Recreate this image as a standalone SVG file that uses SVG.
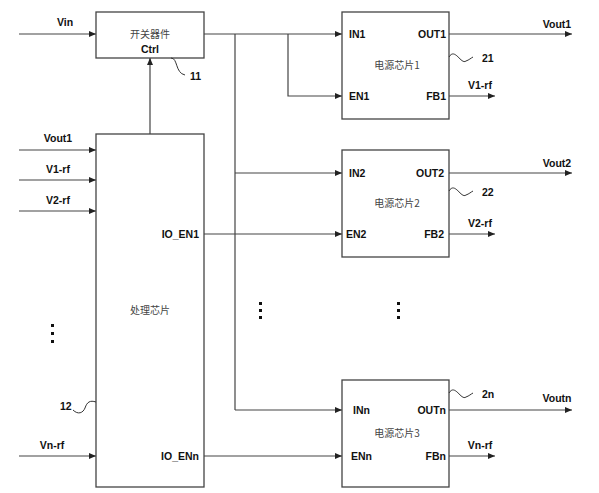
<svg xmlns="http://www.w3.org/2000/svg" width="599" height="493" viewBox="0 0 599 493">
<defs>
<marker id="arr" markerWidth="7" markerHeight="6" refX="7" refY="3" orient="auto" markerUnits="userSpaceOnUse">
<path d="M0,0 L7,3 L0,6 Z" fill="#222"/>
</marker>
<style>
.box{fill:#fff;stroke:#444;stroke-width:1.3}
.ln{fill:none;stroke:#444;stroke-width:1.2}
.ar{marker-end:url(#arr)}
.t{font-family:"Liberation Sans",Arial,sans-serif;font-weight:bold;font-size:10.5px;fill:#111}
.c{font-family:"Noto Sans CJK SC","Noto Sans",sans-serif;font-size:10px;fill:#444}
.sq{fill:none;stroke:#333;stroke-width:1}
.dot{fill:#111}
</style>
</defs>
<rect width="599" height="493" fill="#fff"/>
<g id="connectors">
<line class="ln ar" x1="19" y1="34" x2="96" y2="34"/>
<line class="ln ar" x1="150" y1="134" x2="150" y2="58"/>
<polyline class="ln ar" points="204,34 342,34"/>
<polyline class="ln ar" points="288,34 288,96 342,96"/>
<polyline class="ln" points="235,34 235,410"/>
<line class="ln ar" x1="235" y1="173" x2="342" y2="173"/>
<line class="ln ar" x1="235" y1="410" x2="342" y2="410"/>
<line class="ln ar" x1="204" y1="234" x2="342" y2="234"/>
<line class="ln ar" x1="204" y1="456" x2="342" y2="456"/>
<line class="ln ar" x1="449" y1="34" x2="572" y2="34"/>
<line class="ln ar" x1="449" y1="96" x2="495" y2="96"/>
<line class="ln ar" x1="449" y1="173" x2="572" y2="173"/>
<line class="ln ar" x1="449" y1="234" x2="495" y2="234"/>
<line class="ln ar" x1="449" y1="410" x2="572" y2="410"/>
<line class="ln ar" x1="449" y1="456" x2="495" y2="456"/>
<line class="ln ar" x1="19" y1="150" x2="96" y2="150"/>
<line class="ln ar" x1="19" y1="180" x2="96" y2="180"/>
<line class="ln ar" x1="19" y1="211" x2="96" y2="211"/>
<line class="ln ar" x1="19" y1="456" x2="96" y2="456"/>
<text class="t" x="65" y="26" text-anchor="middle">Vin</text>
<text class="t" x="557" y="28" text-anchor="middle">Vout1</text>
<text class="t" x="480" y="89" text-anchor="middle">V1-rf</text>
<text class="t" x="557" y="167" text-anchor="middle">Vout2</text>
<text class="t" x="480" y="227" text-anchor="middle">V2-rf</text>
<text class="t" x="557" y="402" text-anchor="middle">Voutn</text>
<text class="t" x="480" y="449" text-anchor="middle">Vn-rf</text>
<text class="t" x="58" y="142" text-anchor="middle">Vout1</text>
<text class="t" x="58" y="173" text-anchor="middle">V1-rf</text>
<text class="t" x="58" y="204" text-anchor="middle">V2-rf</text>
<text class="t" x="52" y="449" text-anchor="middle">Vn-rf</text>
</g>
<g id="switch">
<rect class="box" x="96" y="12" width="108" height="46"/>
<text class="c" x="150" y="38" text-anchor="middle">开关器件</text>
<text class="t" x="150" y="53" text-anchor="middle">Ctrl</text>
<path class="sq" d="M171,58 C178,58 175,73 185,75"/>
<text class="t" x="190" y="80">11</text>
</g>
<g id="processor">
<rect class="box" x="96" y="134" width="108" height="353"/>
<text class="c" x="150" y="314" text-anchor="middle">处理芯片</text>
<text class="t" x="199" y="238" text-anchor="end">IO_EN1</text>
<text class="t" x="199" y="460" text-anchor="end">IO_ENn</text>
<path class="sq" d="M73,410 C78,415 83,413 85,408 C87,402 90,400 96,402"/>
<text class="t" x="60" y="410">12</text>
</g>
<g id="chip1">
<rect class="box" x="342" y="12" width="107" height="107"/>
<text class="t" x="349" y="38">IN1</text>
<text class="t" x="349" y="100">EN1</text>
<text class="t" x="446" y="38" text-anchor="end">OUT1</text>
<text class="t" x="446" y="100" text-anchor="end">FB1</text>
<text class="c" x="397" y="69" text-anchor="middle">电源芯片1</text>
<path class="sq" d="M449,57 C455,47 461,65 466,61 C469,60 471,58 473,57"/>
<text class="t" x="482" y="62">21</text>
</g>
<g id="chip2">
<rect class="box" x="342" y="150" width="107" height="107"/>
<text class="t" x="349" y="177">IN2</text>
<text class="t" x="346" y="238">EN2</text>
<text class="t" x="444" y="177" text-anchor="end">OUT2</text>
<text class="t" x="444" y="238" text-anchor="end">FB2</text>
<text class="c" x="397" y="207" text-anchor="middle">电源芯片2</text>
<path class="sq" d="M449,191 C455,181 461,199 466,195 C469,194 471,192 473,191"/>
<text class="t" x="482" y="196">22</text>
</g>
<g id="chip3">
<rect class="box" x="342" y="380" width="107" height="107"/>
<text class="t" x="353" y="414">INn</text>
<text class="t" x="351" y="460">ENn</text>
<text class="t" x="446" y="414" text-anchor="end">OUTn</text>
<text class="t" x="446" y="460" text-anchor="end">FBn</text>
<text class="c" x="397" y="437" text-anchor="middle">电源芯片3</text>
<path class="sq" d="M449,393 C455,383 461,401 466,397 C469,396 471,394 473,393"/>
<text class="t" x="482" y="398">2n</text>
</g>
<g id="dots">
<rect class="dot" x="51" y="324" width="3" height="3"/>
<rect class="dot" x="51" y="332" width="3" height="3"/>
<rect class="dot" x="51" y="340" width="3" height="3"/>
<rect class="dot" x="259" y="302" width="3" height="3"/>
<rect class="dot" x="259" y="309" width="3" height="3"/>
<rect class="dot" x="259" y="316" width="3" height="3"/>
<rect class="dot" x="397" y="302" width="3" height="3"/>
<rect class="dot" x="397" y="309" width="3" height="3"/>
<rect class="dot" x="397" y="316" width="3" height="3"/>
</g>
</svg>
